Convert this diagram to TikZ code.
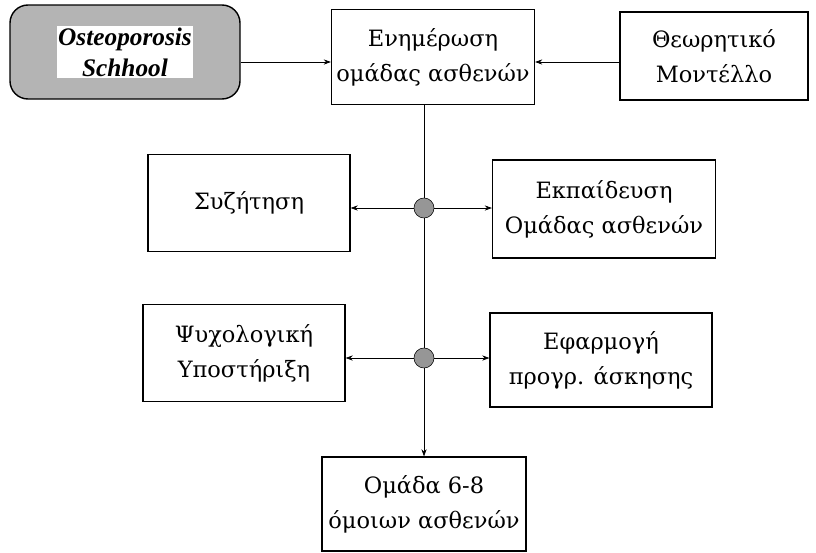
\documentclass[tikz,border=0pt]{standalone}
\usepackage{fontspec}
\setmainfont{DejaVu Serif}
\newfontfamily\schoolfont{Liberation Serif}
\usepackage{xcolor}
\usetikzlibrary{arrows.meta, positioning, calc}
\definecolor{schoolgray}{RGB}{180, 180, 180}
\definecolor{hubgray}{RGB}{150, 150, 150}

\begin{document}
\begin{tikzpicture}[
    box/.style={rectangle, draw, line width=0.8pt, align=center, font=\fontsize{16}{25}\selectfont},
    schoolbox/.style={rectangle, draw, line width=1pt, rounded corners=0.45cm, fill=schoolgray},
    hub/.style={circle, draw, fill=hubgray, minimum size=0.5cm, inner sep=0pt},
    arrow/.style={-{Stealth[length=1.8mm, width=1.3mm]}, semithick},
    link/.style={semithick}
]
\useasboundingbox (0,0) rectangle (20.4,-13.825);

% Top row
\node[schoolbox, minimum width=5.75cm, minimum height=2.35cm] (school) at (3.125,-1.3) {};
\node[fill=white, inner sep=1pt, align=center, font=\schoolfont\bfseries\itshape\fontsize{18}{22}\selectfont] (schooltext) at (school) {Osteoporosis\\Schhool};
\node[box, minimum width=5.075cm, minimum height=2.375cm] (inform) at (10.825,-1.425) {Ενημέρωση\\ομάδας ασθενών};
\node[box, minimum width=4.7cm, minimum height=2.2cm] (model) at (17.85,-1.4) {Θεωρητικό\\Μοντέλλο};

% Middle rows
\node[box, minimum width=5.05cm, minimum height=2.425cm] (discuss) at (6.225,-5.075) {Συζήτηση};
\node[box, minimum width=5.575cm, minimum height=2.45cm] (educ) at (15.1,-5.225) {Εκπαίδευση\\Ομάδας ασθενών};
\node[box, minimum width=5.05cm, minimum height=2.425cm] (psych) at (6.1,-8.825) {Ψυχολογική\\Υποστήριξη};
\node[box, minimum width=5.55cm, minimum height=2.35cm] (apply) at (15.025,-9.0) {Εφαρμογή\\προγρ. άσκησης};

% Bottom
\node[box, minimum width=5.1cm, minimum height=2.35cm] (group) at (10.6,-12.6) {Ομάδα 6-8\\όμοιων ασθενών};

% Hubs
\node[hub] (hubA) at (10.6,-5.2) {};
\node[hub] (hubB) at (10.6,-8.95) {};

% Arrows
\coordinate (toplvl) at (0,-1.55);
\draw[arrow] (school.east |- toplvl) -- (inform.west |- toplvl);
\draw[arrow] (model.west |- toplvl) -- (inform.east |- toplvl);
\draw[link] (hubA |- inform.south) -- (hubA);
\draw[link] (hubA) -- (hubB);
\draw[arrow] (hubB) -- (group);
\draw[arrow] (hubA) -- (hubA -| discuss.east);
\draw[arrow] (hubA) -- (hubA -| educ.west);
\draw[arrow] (hubB) -- (hubB -| psych.east);
\draw[arrow] (hubB) -- (hubB -| apply.west);

\end{tikzpicture}
\end{document}
